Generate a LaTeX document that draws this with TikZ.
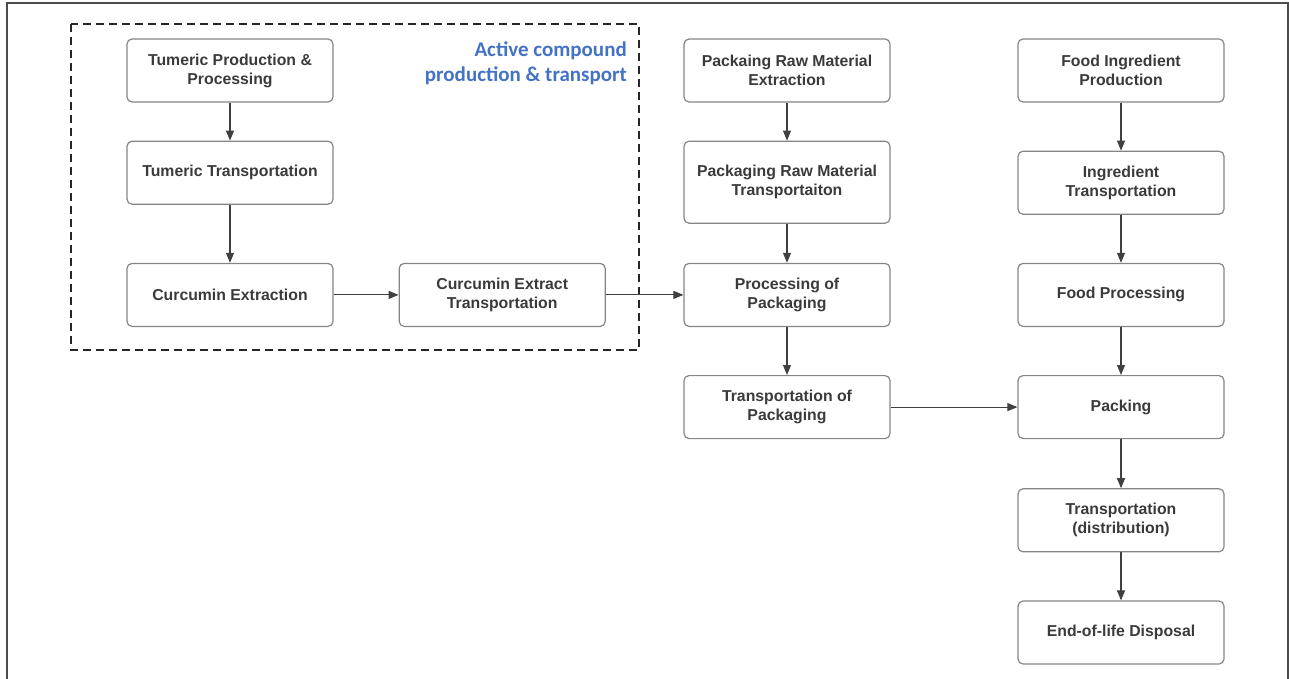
\documentclass[tikz,border=0pt]{standalone}
\usepackage{fontspec}
\setmainfont{Liberation Sans}
\newfontfamily\titlefont{Carlito}
\usetikzlibrary{positioning,arrows.meta}
\definecolor{boxline}{HTML}{858585}
\definecolor{txtgray}{HTML}{3A3A3A}
\definecolor{arrgray}{HTML}{404040}
\definecolor{titleblue}{HTML}{4472C4}
\tikzset{stage/.style={draw=boxline, line width=1.2pt, rounded corners=5, minimum width=206pt, minimum height=63pt, inner sep=0pt, align=center, text=txtgray, font=\fontsize{15.8}{19}\selectfont\bfseries}}
\tikzset{flow/.style={draw=arrgray, line width=1.1pt, -{Triangle[length=10pt,width=8pt]}}}
\tikzset{groupbox/.style={draw=black!85, line width=1.4pt, dash pattern=on 8pt off 5pt}}
\tikzset{frame/.style={draw=black!70, line width=1.4pt}}

\begin{document}
\begin{tikzpicture}[x=1pt, y=-1pt]
	\useasboundingbox (0,0) rectangle (1289,679);
	\draw[frame] (7,679) |- (1288,3) -- (1288,679);
	% active compound group
	\draw[groupbox] (71,24) rectangle (639,350);
	\node[anchor=north east, align=right, inner sep=0pt, text=titleblue, font=\titlefont\fontsize{21}{25}\selectfont\bfseries] (grp) at (627,42) {Active compound\\production \& transport};
	\node[stage] (TP) at (230,70.5) {Tumeric Production \&\\Processing};
	\node[stage, below=38pt of TP] (TT) {Tumeric Transportation};
	\node[stage, below=58pt of TT] (CE) {Curcumin Extraction};
	\node[stage, right=65pt of CE] (CT) {Curcumin Extract\\Transportation};
	% packaging
	\node[stage] (PE) at (787,70.5) {Packaing Raw Material\\Extraction};
	\node[stage, minimum height=82pt, below=38pt of PE] (PT) {Packaging Raw Material\\Transportaiton};
	\node[stage, below=39pt of PT] (PP) {Processing of\\Packaging};
	\node[stage, below=48pt of PP] (TPk) {Transportation of\\Packaging};
	% food
	\node[stage] (FI) at (1121,70.5) {Food Ingredient\\Production};
	\node[stage, below=48pt of FI] (IT) {Ingredient\\Transportation};
	\node[stage, below=48pt of IT] (FP) {Food Processing};
	\node[stage, below=48pt of FP] (PK) {Packing};
	\node[stage, below=49pt of PK] (TD) {Transportation\\(distribution)};
	\node[stage, below=48pt of TD] (EL) {End-of-life Disposal};
	\draw[flow] (TP) -- (TT);
	\draw[flow] (TT) -- (CE);
	\draw[flow] (CE) -- (CT);
	\draw[flow] (CT) -- (PP);
	\draw[flow] (PE) -- (PT);
	\draw[flow] (PT) -- (PP);
	\draw[flow] (PP) -- (TPk);
	\draw[flow] (TPk) -- (PK);
	\draw[flow] (FI) -- (IT);
	\draw[flow] (IT) -- (FP);
	\draw[flow] (FP) -- (PK);
	\draw[flow] (PK) -- (TD);
	\draw[flow] (TD) -- (EL);
\end{tikzpicture}
\end{document}
